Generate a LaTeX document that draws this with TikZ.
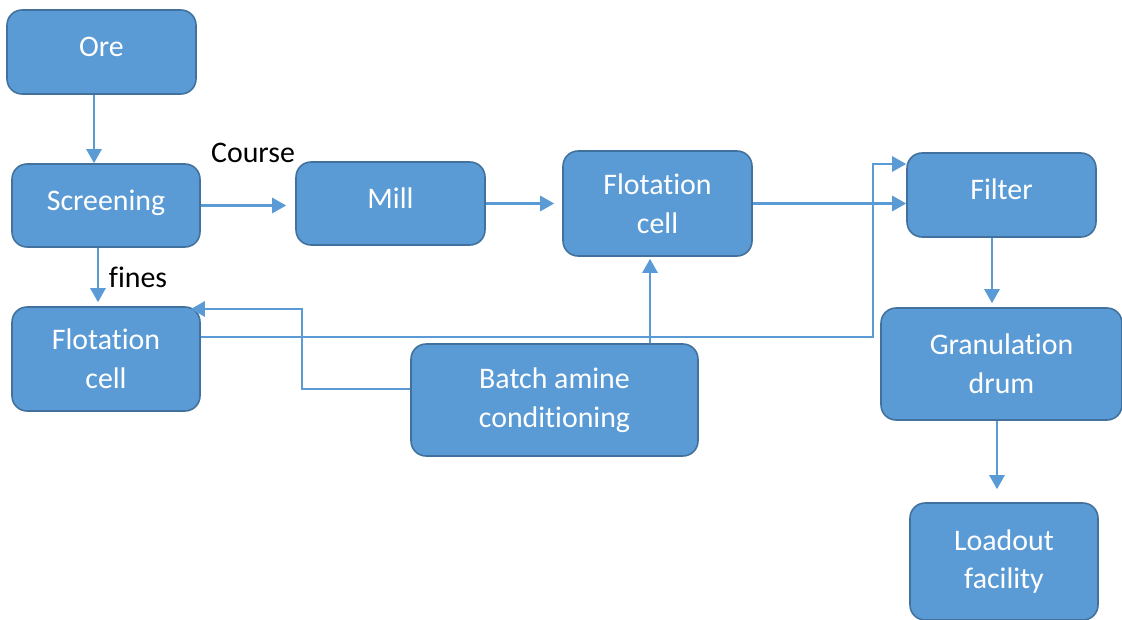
\documentclass[tikz,border=0pt]{standalone}
\usepackage{fontspec}
\setmainfont{Carlito}[Ligatures=NoCommon]
\usetikzlibrary{arrows.meta}
\definecolor{boxblue}{HTML}{5B9BD5}
\definecolor{boxedge}{HTML}{41719C}
\begin{document}
\begin{tikzpicture}[x=0.02cm, y=-0.02cm]
\tikzset{ >={Triangle[length=0.28cm,width=0.3cm]},
  stage/.style={draw=boxedge, line width=0.9pt, fill=boxblue, rounded corners=0.3cm,
    text=white, align=center, inner sep=0pt, font=\fontsize{17}{22}\selectfont},
  oneline/.style={text height=0.4cm, text depth=0.22cm},
  flow/.style={->, draw=boxblue, line width=1.5pt},
  note/.style={font=\fontsize{17}{22}\selectfont},
}
\useasboundingbox (0,0) rectangle (1122,619);

\node [stage, oneline, minimum width=3.78cm, minimum height=1.68cm] (Ore)    at (101.5,52)   {Ore};
\node [stage, oneline, minimum width=3.76cm, minimum height=1.66cm] (Screen) at (106,205.5)  {Screening};
\node [stage, oneline, minimum width=3.78cm, minimum height=1.66cm] (Mill)   at (390.5,203.5) {Mill};
\node [stage, minimum width=3.78cm, minimum height=2.10cm] (FlotB)  at (657.5,203.5) {Flotation\\cell};
\node [stage, oneline, minimum width=3.78cm, minimum height=1.68cm] (Filter) at (1001.5,195) {Filter};
\node [stage, minimum width=3.76cm, minimum height=2.08cm] (FlotA)  at (106,359)    {Flotation\\cell};
\node [stage, minimum width=5.74cm, minimum height=2.24cm] (Batch)  at (554.5,400)  {Batch amine\\conditioning};
\node [stage, minimum width=4.82cm, minimum height=2.24cm] (Gran)   at (1001.5,364) {Granulation\\drum};
\node [stage, minimum width=3.76cm, minimum height=2.34cm] (Load)   at (1004,561.5) {Loadout\\facility};

\node [note] (course) at (253,153) {Course};
\node [note] (fines)  at (138,277) {fines};

\coordinate (riser) at (873,164);
\coordinate (bend)  at (302,309);

\draw [flow] ([xshift=-0.15cm]Ore.south) -- ([xshift=-0.15cm]Ore.south |- Screen.north);
\draw [flow, shorten >=0.18cm] (Screen.east) -- (Screen.east -| Mill.west);
\draw [flow, shorten >=0.16cm] (Mill) -- (FlotB);
\draw [flow] (FlotB.east) -- (FlotB.east -| Filter.west);
\draw [flow, shorten >=0.08cm] ([xshift=-0.16cm]Screen.south) -- ([xshift=-0.16cm]Screen.south |- FlotA.north);
\draw [flow] ([yshift=0.44cm]FlotA.east) -| (riser) -- (riser -| Filter.west);
\draw [flow, shorten >=-0.2cm] ([yshift=0.22cm]Batch.west) -| (bend) -- (bend -| FlotA.east);
\draw [flow, shorten >=0.04cm] ([xshift=-0.15cm]Batch.north -| FlotB.south) -- ([xshift=-0.15cm]FlotB.south);
\draw [flow, shorten >=0.08cm] ([xshift=-0.19cm]Filter.south) -- ([xshift=-0.19cm]Filter.south |- Gran.north);
\draw [flow, shorten >=0.26cm] ([xshift=-0.09cm]Gran.south) -- ([xshift=-0.09cm]Gran.south |- Load.north);

\end{tikzpicture}
\end{document}
